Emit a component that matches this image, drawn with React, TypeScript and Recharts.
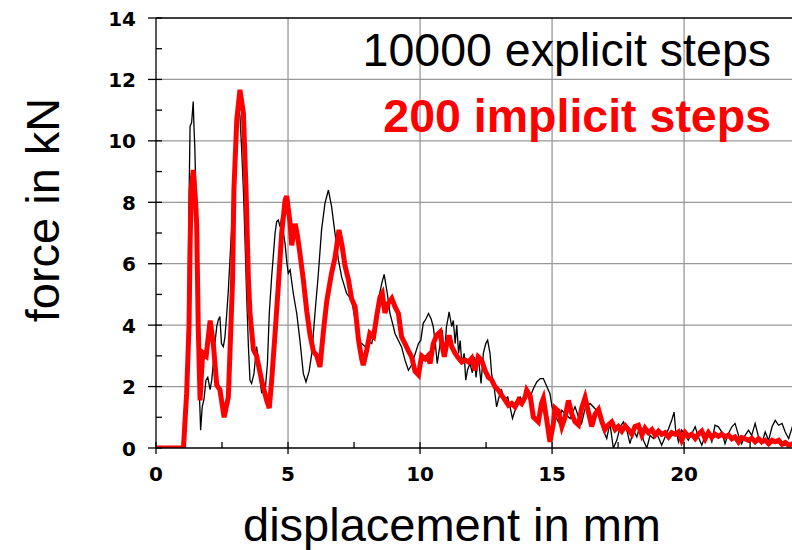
import React from 'react';
import { LineChart, Line, XAxis, YAxis, CartesianGrid, ReferenceLine } from 'recharts';

// 10000 explicit steps (black)
const explicitDisp = [
  0, 1.1, 1.2, 1.25, 1.29, 1.35, 1.41, 1.44, 1.47, 1.5,
  1.54, 1.57, 1.6, 1.67, 1.69, 1.75, 1.82, 1.89, 1.96, 2.05,
  2.11, 2.17, 2.23, 2.3, 2.36, 2.42, 2.48, 2.55, 2.61, 2.68,
  2.74, 2.8, 2.86, 2.92, 2.99, 3.06, 3.12, 3.18, 3.24, 3.31,
  3.37, 3.43, 3.5, 3.56, 3.62, 3.71, 3.81, 3.87, 3.94, 4.0,
  4.13, 4.22, 4.29, 4.38, 4.44, 4.51, 4.57, 4.63, 4.7, 4.76,
  4.83, 4.89, 4.96, 5.01, 5.08, 5.2, 5.33, 5.45, 5.58, 5.68,
  5.8, 5.9, 6.02, 6.15, 6.27, 6.4, 6.53, 6.65, 6.78, 6.91,
  7.03, 7.22, 7.41, 7.54, 7.67, 7.79, 7.92, 8.05, 8.17, 8.3,
  8.42, 8.55, 8.64, 8.76, 8.86, 8.99, 9.05, 9.18, 9.3, 9.43,
  9.56, 9.68, 9.81, 9.94, 10.03, 10.12, 10.22, 10.32, 10.42, 10.5,
  10.58, 10.65, 10.76, 10.84, 10.92, 11.0, 11.07, 11.1, 11.2, 11.26,
  11.33, 11.39, 11.46, 11.52, 11.58, 11.67, 11.73, 11.8, 11.89, 11.98,
  12.06, 12.12, 12.21, 12.31, 12.4, 12.49, 12.56, 12.65, 12.71, 12.82,
  12.9, 12.99, 13.09, 13.2, 13.32, 13.41, 13.5, 13.6, 13.69, 13.79,
  13.92, 14.04, 14.17, 14.29, 14.42, 14.55, 14.67, 14.8, 14.92, 15.0,
  15.11, 15.24, 15.37, 15.49, 15.68, 15.87, 16.0, 16.12, 16.25, 16.44,
  16.63, 16.82, 16.94, 17.07, 17.19, 17.32, 17.45, 17.58, 17.7, 17.83,
  17.95, 18.08, 18.21, 18.33, 18.46, 18.59, 18.71, 18.84, 18.97, 19.15,
  19.28, 19.41, 19.53, 19.62, 19.68, 19.79, 19.91, 20.04, 20.16, 20.29,
  20.42, 20.54, 20.67, 20.8, 20.92, 21.05, 21.17, 21.3, 21.43, 21.55,
  21.68, 21.81, 21.93, 22.06, 22.18, 22.31, 22.44, 22.56, 22.69, 22.82,
  22.94, 23.07, 23.2, 23.33, 23.45, 23.58, 23.71, 23.83, 23.96, 24.1,
  24.2,
];
const explicitForce = [
  0, 0, 3.0, 8.0, 10.47, 10.6, 11.28, 10.4, 9.8, 8.7,
  6.55, 4.4, 2.75, 1.12, 0.58, 1.34, 1.6, 2.2, 2.3, 1.9,
  2.2, 2.75, 3.4, 3.95, 4.17, 4.28, 3.4, 3.3, 3.6, 4.38,
  5.14, 6.12, 7.1, 8.5, 9.6, 10.68, 11.2, 10.8, 9.8, 8.4,
  6.8, 5.03, 3.3, 2.2, 2.1, 2.42, 3.3, 2.9, 2.2, 1.8,
  1.83, 2.75, 4.38, 5.57, 6.23, 7.0, 7.37, 7.42, 7.2, 7.5,
  7.0, 6.63, 6.0, 5.69, 5.8, 5.03, 4.38, 3.51, 2.42, 2.15,
  2.5, 3.08, 4.38, 5.69, 7.1, 7.97, 8.4, 7.86, 6.99, 6.12,
  5.57, 5.03, 4.82, 4.16, 3.51, 3.4, 3.3, 3.45, 3.4, 3.95,
  4.82, 5.36, 5.65, 5.03, 4.38, 3.95, 3.73, 3.5, 3.29, 2.86,
  2.53, 2.7, 3.05, 3.4, 3.51, 4.06, 4.2, 4.38, 4.2, 3.95,
  3.4, 2.75, 3.4, 3.84, 2.97, 3.95, 4.27, 4.43, 3.95, 4.15,
  3.4, 4.0, 3.08, 3.5, 2.75, 3.08, 2.21, 2.55, 2.75, 2.45,
  2.97, 2.3, 2.97, 2.1, 3.1, 3.4, 3.51, 3.08, 2.42, 1.88,
  1.34, 1.66, 1.88, 1.56, 1.66, 1.34, 0.96, 1.23, 1.56, 1.66,
  1.45, 1.88, 1.66, 1.93, 2.15, 2.26, 2.26, 2.0, 1.77, 1.34,
  1.07, 0.85, 1.23, 1.12, 0.96, 1.34, 1.01, 0.8, 1.28, 1.45,
  1.28, 1.01, 0.58, 0.31, 0.8, 0, 0.25, 0.69, 0.85, 0.58,
  0.14, 0.58, 0.36, 0.74, 0.25, 0, 0.41, 0.31, 0.47, 0.09,
  0.36, 0.63, 0.9, 1.17, 0.58, 0.2, 0.58, 0.41, 0.25, 0.47,
  0.69, 0.36, 0.09, 0.41, 0.52, 0.2, 0.74, 0.69, 0.52, 0.14,
  0.47, 0.69, 0.8, 0.41, 0.14, 0.41, 0.58, 0.41, 0.8, 0.36,
  0.14, 0.52, 0.25, 0.69, 0.9, 0.74, 0.8, 0.52, 0.31, 0.69,
  0.4,
];

// 200 implicit steps (red)
const implicitDisp = [
  0, 1.04, 1.1, 1.16, 1.25, 1.29, 1.33, 1.41, 1.5, 1.54,
  1.6, 1.67, 1.72, 1.77, 1.9, 2.05, 2.17, 2.3, 2.42, 2.58,
  2.74, 2.8, 2.9, 2.95, 3.06, 3.18, 3.31, 3.41, 3.5, 3.56,
  3.69, 3.81, 4.0, 4.19, 4.29, 4.38, 4.51, 4.63, 4.76, 4.89,
  4.95, 5.08, 5.14, 5.27, 5.36, 5.45, 5.58, 5.71, 5.83, 5.96,
  6.09, 6.21, 6.34, 6.47, 6.65, 6.78, 6.84, 6.93, 7.05, 7.16,
  7.29, 7.41, 7.54, 7.67, 7.79, 7.85, 7.98, 8.1, 8.24, 8.36,
  8.48, 8.57, 8.67, 8.79, 8.93, 9.05, 9.18, 9.3, 9.43, 9.55,
  9.68, 9.81, 9.94, 10.06, 10.2, 10.3, 10.38, 10.5, 10.63, 10.76,
  10.84, 10.92, 11.0, 11.1, 11.2, 11.33, 11.46, 11.58, 11.71, 11.84,
  11.96, 12.08, 12.2, 12.33, 12.46, 12.59, 12.71, 12.84, 12.97, 13.09,
  13.22, 13.35, 13.47, 13.6, 13.73, 13.85, 13.98, 14.04, 14.17, 14.29,
  14.48, 14.6, 14.67, 14.8, 14.92, 15.05, 15.11, 15.24, 15.37, 15.49,
  15.62, 15.75, 15.87, 16.0, 16.12, 16.25, 16.38, 16.5, 16.63, 16.76,
  16.89, 17.0, 17.13, 17.26, 17.39, 17.51, 17.64, 17.77, 17.89, 18.02,
  18.14, 18.27, 18.4, 18.52, 18.65, 18.78, 18.9, 19.03, 19.15, 19.28,
  19.41, 19.53, 19.66, 19.79, 19.91, 20.04, 20.16, 20.29, 20.42, 20.54,
  20.67, 20.8, 20.92, 21.05, 21.17, 21.3, 21.43, 21.55, 21.68, 21.81,
  21.93, 22.06, 22.18, 22.31, 22.44, 22.56, 22.69, 22.82, 22.94, 23.07,
  23.2, 23.33, 23.45, 23.58, 23.71, 23.83, 23.96, 24.1, 24.2,
];
const implicitForce = [
  0, 0, 0.9, 1.77, 3.95, 6.55, 8.4, 9.05, 8.0, 7.3,
  3.95, 1.55, 2.4, 3.1, 3.0, 4.15, 3.4, 2.05, 1.9, 1.0,
  1.66, 3.1, 5.47, 8.4, 10.7, 11.66, 10.9, 8.4, 5.47, 4.4,
  3.2, 3.0, 2.2, 1.55, 1.3, 2.2, 3.74, 5.25, 7.0, 8.07,
  8.2, 7.3, 6.6, 7.3, 6.9, 6.34, 5.47, 4.45, 3.7, 3.15,
  3.0, 2.64, 3.8, 4.8, 5.7, 6.2, 6.56, 7.1, 6.56, 5.92,
  5.47, 4.85, 4.6, 3.51, 2.9, 2.7, 3.18, 3.73, 3.62, 4.3,
  4.9, 5.03, 4.4, 4.7, 4.87, 4.6, 4.38, 3.62, 3.4, 3.18,
  2.97, 2.5, 2.38, 3.0, 2.9, 3.0, 2.75, 3.4, 3.67, 3.78,
  3.3, 2.97, 3.35, 3.67, 3.3, 3.08, 2.92, 2.8, 2.86, 2.8,
  2.92, 2.53, 2.97, 2.86, 2.53, 2.3, 2.22, 1.99, 1.88, 1.72,
  1.56, 1.39, 1.45, 1.34, 1.56, 1.45, 1.66, 1.88, 1.7, 1.01,
  0.85, 1.45, 1.61, 0.9, 0.2, 0.8, 1.3, 1.2, 0.7, 1.0,
  1.55, 1.1, 0.85, 0.75, 1.3, 1.64, 1.15, 0.7, 1.1, 1.25,
  0.85, 0.6, 0.75, 0.85, 0.6, 0.7, 0.55, 0.72, 0.6, 0.45,
  0.7, 0.74, 0.42, 0.65, 0.5, 0.6, 0.42, 0.55, 0.45, 0.5,
  0.36, 0.5, 0.45, 0.52, 0.25, 0.5, 0.38, 0.45, 0.31, 0.45,
  0.55, 0.3, 0.5, 0.35, 0.45, 0.38, 0.45, 0.36, 0.42, 0.3,
  0.36, 0.2, 0.34, 0.3, 0.25, 0.32, 0.2, 0.3, 0.2, 0.25,
  0.14, 0.25, 0.2, 0.25, 0.12, 0.18, 0.09, 0.14, 0.12,
];

const xTicks = [0, 2.5, 5, 7.5, 10, 12.5, 15, 17.5, 20, 22.5];
const xLabelTicks = [0, 5, 10, 15, 20];
const yTicks = [0, 1, 2, 3, 4, 5, 6, 7, 8, 9, 10, 11, 12, 13, 14];
const yLabelTicks = [0, 2, 4, 6, 8, 10, 12, 14];
const gridX = [5, 10, 15, 20];
const gridY = [2, 4, 6, 8, 10, 12];

const explicitLabel = '10000 explicit steps';
const implicitLabel = '200 implicit steps';
const xTitle = 'displacement in mm';
const yTitle = 'force in kN';

const explicitData = explicitDisp.map((d, i) => ({ x: d, f: explicitForce[i] }));
const implicitData = implicitDisp.map((d, i) => ({ x: d, f: implicitForce[i] }));

const tickFont = { fontFamily: 'DejaVu Sans', fontWeight: 'bold' as const, fontSize: 20 };

const XTick = (props: any) => {
  const { x, y, payload } = props;
  const v = payload.value;
  const major = xLabelTicks.includes(v);
  return (
    <g>
      {major ? (
        <line x1={x} x2={x} y1={y - 6} y2={y + 6} stroke="#000" strokeWidth={1.3} />
      ) : (
        <line x1={x} x2={x} y1={y} y2={y - 6} stroke="#000" strokeWidth={1.3} />
      )}
      {major && (
        <text x={x} y={y + 33} textAnchor="middle" fill="#000" {...tickFont}>
          {v}
        </text>
      )}
    </g>
  );
};

const YTick = (props: any) => {
  const { x, y, payload } = props;
  const v = payload.value;
  const major = yLabelTicks.includes(v);
  return (
    <g>
      {major ? (
        <line x1={x - 8} x2={x + 6} y1={y} y2={y} stroke="#000" strokeWidth={1.3} />
      ) : (
        <line x1={x} x2={x + 6} y1={y} y2={y} stroke="#000" strokeWidth={1.3} />
      )}
      {major && (
        <text x={x - 20} y={y + 7.5} textAnchor="end" fill="#000" {...tickFont}>
          {v}
        </text>
      )}
    </g>
  );
};

export default function App() {
  return (
    <div style={{ position: 'absolute', left: 0, top: 0, width: 792, height: 550, overflow: 'hidden', background: '#fff' }}>
      <LineChart width={800} height={550} margin={{ top: 18, right: 5, bottom: 72, left: 96 }}>
        <CartesianGrid
          horizontalValues={gridY}
          verticalValues={gridX}
          stroke="#999"
          strokeWidth={1.3}
        />
        <XAxis
          type="number"
          dataKey="x"
          domain={[0, 24.2]}
          ticks={xTicks}
          interval={0}
          height={30}
          tickSize={0}
          tickMargin={0}
          tickLine={false}
          axisLine={{ stroke: '#000', strokeWidth: 1.3 }}
          tick={<XTick />}
          allowDataOverflow
        />
        <YAxis
          type="number"
          domain={[0, 14]}
          ticks={yTicks}
          interval={0}
          width={60}
          tickSize={0}
          tickMargin={0}
          tickLine={false}
          axisLine={{ stroke: '#000', strokeWidth: 1.3 }}
          tick={<YTick />}
          allowDataOverflow
        />
        <ReferenceLine y={14} stroke="#000" strokeWidth={1.3} />
        <Line
          data={explicitData}
          dataKey="f"
          type="linear"
          stroke="#000"
          strokeWidth={1.3}
          dot={false}
          activeDot={false}
          isAnimationActive={false}
        />
        <Line
          data={implicitData}
          dataKey="f"
          type="linear"
          stroke="#ff0000"
          strokeWidth={5}
          dot={false}
          activeDot={false}
          isAnimationActive={false}
        />
      </LineChart>
      <svg
        width={792}
        height={550}
        style={{ position: 'absolute', left: 0, top: 0, pointerEvents: 'none' }}
      >
        <text x={771} y={66} textAnchor="end" fontFamily="Liberation Sans" fontSize={46.5} fill="#000">
          {explicitLabel}
        </text>
        <text x={771} y={132} textAnchor="end" fontFamily="Liberation Sans" fontWeight="bold" fontSize={46.5} fill="#ff0000">
          {implicitLabel}
        </text>
        <text x={452} y={541} textAnchor="middle" fontFamily="Liberation Sans" fontSize={47} fill="#000">
          {xTitle}
        </text>
        <text
          transform="translate(59,210) rotate(-90)"
          textAnchor="middle"
          fontFamily="Liberation Sans"
          fontSize={47}
          fill="#000"
        >
          {yTitle}
        </text>
      </svg>
    </div>
  );
}
